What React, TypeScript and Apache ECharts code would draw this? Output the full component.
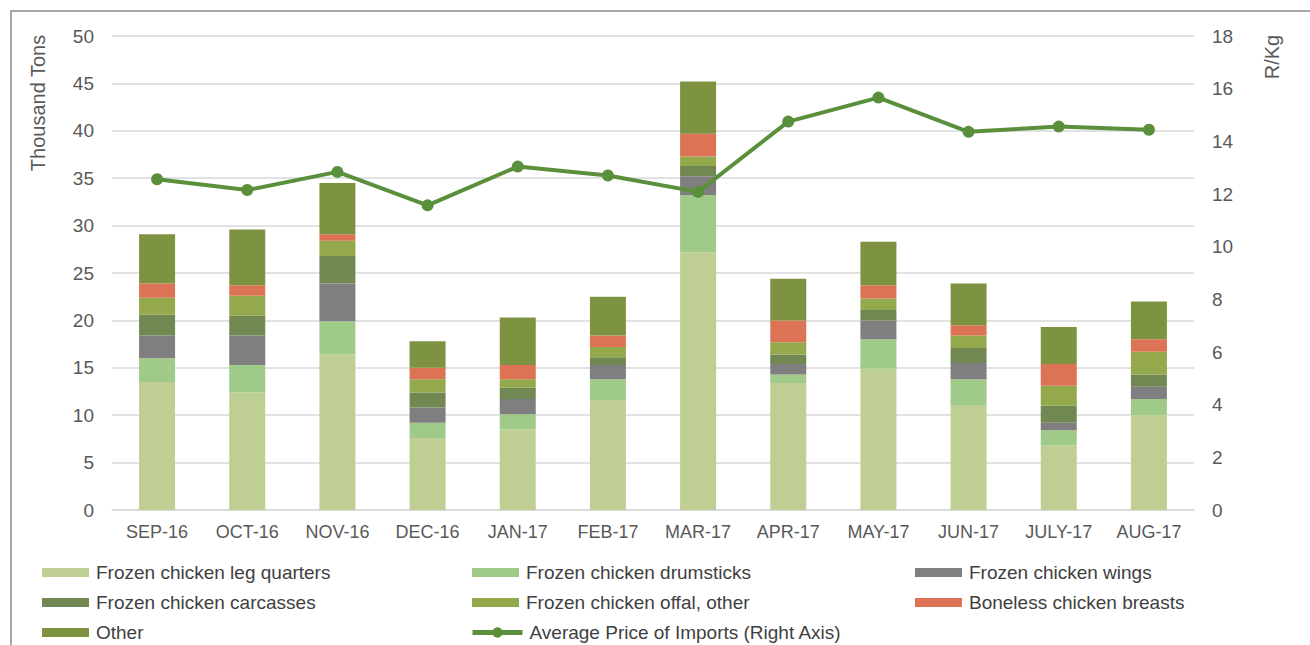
import React, { useEffect, useRef } from "react";
import * as echarts from "echarts";

const categories = ["SEP-16", "OCT-16", "NOV-16", "DEC-16", "JAN-17", "FEB-17", "MAR-17", "APR-17", "MAY-17", "JUN-17", "JULY-17", "AUG-17"];

const legQuarters = [13.5, 12.4, 16.4, 7.6, 8.5, 11.6, 27.2, 13.4, 14.9, 11.0, 6.8, 10.0];
const drumsticks = [2.5, 2.9, 3.5, 1.6, 1.6, 2.2, 6.0, 0.9, 3.1, 2.8, 1.6, 1.7];
const wings = [2.4, 3.1, 4.0, 1.6, 1.6, 1.5, 2.0, 1.1, 2.0, 1.7, 0.8, 1.3];
const carcasses = [2.2, 2.1, 2.9, 1.6, 1.2, 0.8, 1.1, 1.0, 1.1, 1.6, 1.8, 1.3];
const offal = [1.8, 2.1, 1.6, 1.4, 0.9, 1.1, 1.0, 1.3, 1.2, 1.3, 2.1, 2.4];
const breasts = [1.5, 1.1, 0.7, 1.2, 1.5, 1.2, 2.4, 2.3, 1.4, 1.1, 2.3, 1.3];
const other = [5.2, 5.9, 5.4, 2.8, 5.0, 4.1, 5.5, 4.4, 4.6, 4.4, 3.9, 4.0];
const avgPrice = [12.56, 12.15, 12.84, 11.57, 13.04, 12.70, 12.08, 14.75, 15.66, 14.36, 14.56, 14.44];

const leftTicks = { min: 0, max: 50, interval: 5 };
const rightTicks = { min: 0, max: 18, interval: 2 };

const barSeries = [
  { name: "Frozen chicken leg quarters", data: legQuarters, color: "#bfcf93" },
  { name: "Frozen chicken drumsticks", data: drumsticks, color: "#a0ca88" },
  { name: "Frozen chicken wings", data: wings, color: "#7f7f7f" },
  { name: "Frozen chicken carcasses", data: carcasses, color: "#718852" },
  { name: "Frozen chicken offal, other", data: offal, color: "#93a94c" },
  { name: "Boneless chicken breasts", data: breasts, color: "#dc7354" },
  { name: "Other", data: other, color: "#7e9341" },
];
const lineName = "Average Price of Imports (Right Axis)";
const lineColor = "#5a8f3c";

// legend grid: [name, column, row]
const legendLayout: [string, number, number][] = [
  ["Frozen chicken leg quarters", 0, 0],
  ["Frozen chicken drumsticks", 1, 0],
  ["Frozen chicken wings", 2, 0],
  ["Frozen chicken carcasses", 0, 1],
  ["Frozen chicken offal, other", 1, 1],
  ["Boneless chicken breasts", 2, 1],
  ["Other", 0, 2],
  [lineName, 1, 2],
];

const FONT = "'Liberation Sans', Arial, sans-serif";
const labelColor = "#595959";
const legendColor = "#404040";

export default function App() {
  const ref = useRef<HTMLDivElement>(null);
  useEffect(() => {
    if (!ref.current) return;
    const chart = echarts.init(ref.current, undefined, { renderer: "svg" });
    const colX = [42, 472, 915];
    const rowY = [563, 593, 623];
    const legends = legendLayout.map(([name, c, r]) => {
      const isLine = name === lineName;
      return {
        orient: "horizontal",
        left: isLine ? colX[c] - 2 : colX[c],
        top: rowY[r],
        itemWidth: isLine ? 50 : 47,
        itemHeight: isLine ? 13 : 9,
        padding: 0,
        data: [isLine ? { name } : { name, icon: "rect" }],
        lineStyle: isLine ? { width: 5, color: lineColor } : undefined,
        textStyle: { fontFamily: FONT, fontSize: 19, color: legendColor, padding: [0, 0, 0, 2] },
      };
    });
    chart.setOption({
      animation: false,
      backgroundColor: "#ffffff",
      textStyle: { fontFamily: FONT },
      grid: { left: 112, right: 116, top: 36, bottom: 135, containLabel: false },
      graphic: [
        {
          type: "rect",
          shape: { x: 11, y: 11, width: 1400, height: 800 },
          style: { fill: "none", stroke: "#8c8c8c", lineWidth: 1.5 },
          silent: true,
        },
        {
          type: "text",
          x: 38,
          y: 103,
          rotation: Math.PI / 2,
          style: { text: "Thousand Tons", fontFamily: FONT, fontSize: 20, fill: labelColor, align: "center", verticalAlign: "middle" },
        },
        {
          type: "text",
          x: 1272,
          y: 57,
          rotation: Math.PI / 2,
          style: { text: "R/Kg", fontFamily: FONT, fontSize: 20, fill: labelColor, align: "center", verticalAlign: "middle" },
        },
      ],
      legend: legends,
      xAxis: {
        type: "category",
        data: categories,
        axisLine: { lineStyle: { color: "#d9d9d9", width: 1.5 } },
        axisTick: { show: false },
        axisLabel: { color: labelColor, fontSize: 18, fontFamily: FONT, margin: 13, interval: 0 },
      },
      yAxis: [
        {
          type: "value",
          ...leftTicks,
          axisLine: { show: false },
          axisTick: { show: false },
          axisLabel: { color: labelColor, fontSize: 19, fontFamily: FONT, margin: 18 },
          splitLine: { lineStyle: { color: "#d9d9d9", width: 1.5 } },
        },
        {
          type: "value",
          ...rightTicks,
          position: "right",
          axisLine: { show: false },
          axisTick: { show: false },
          axisLabel: { color: labelColor, fontSize: 19, fontFamily: FONT, margin: 18 },
          splitLine: { show: false },
        },
      ],
      series: [
        ...barSeries.map((s) => ({
          name: s.name,
          type: "bar",
          stack: "total",
          barWidth: 36,
          data: s.data,
          itemStyle: { color: s.color },
          yAxisIndex: 0,
        })),
        {
          name: lineName,
          type: "line",
          yAxisIndex: 1,
          data: avgPrice,
          symbol: "circle",
          symbolSize: 12,
          lineStyle: { color: lineColor, width: 4 },
          itemStyle: { color: lineColor },
        },
      ],
    });
    return () => chart.dispose();
  }, []);
  return <div ref={ref} style={{ position: "absolute", left: 0, top: 0, width: 1310, height: 645 }} />;
}
